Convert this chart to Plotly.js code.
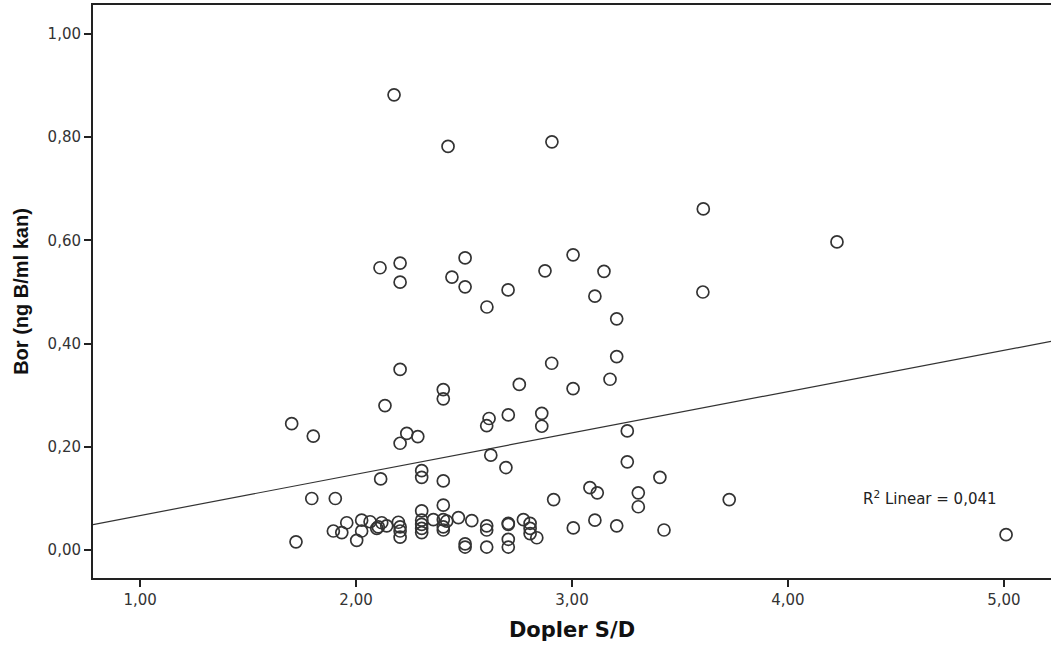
<!DOCTYPE html>
<html>
<head>
<meta charset="utf-8">
<script src="https://cdn.plot.ly/plotly-3.0.1.min.js"></script>
<style>html,body{margin:0;padding:0;background:#fff;}#chart{width:1051px;height:645px;}</style>
</head>
<body>
<div id="chart"></div>
<script>
// Dopler S/D values
const doplerSD = [
  2.176, 2.426, 2.907, 3.608, 4.227, 3.606, 2.111, 2.204, 2.204, 2.505,
  2.444, 2.505, 2.704, 2.606, 2.875, 3.005, 3.148, 3.106, 3.207, 3.207,
  2.906, 2.204, 3.176, 2.756, 3.005, 2.404, 2.404, 2.134, 1.702, 1.802,
  2.235, 2.286, 2.204, 2.616, 2.605, 2.705, 2.860, 2.860, 2.624, 2.694,
  2.304, 2.304, 2.114, 2.404, 1.795, 1.904, 2.915, 2.404, 2.304, 1.957,
  2.026, 2.065, 2.119, 2.196, 2.304, 2.304, 2.358, 2.404, 2.420, 2.474,
  2.536, 2.775, 2.705, 2.705, 2.605, 2.605, 2.806, 2.806, 2.806, 2.837,
  1.895, 1.934, 2.026, 2.003, 2.103, 2.096, 2.142, 2.204, 2.204, 2.204,
  2.304, 2.304, 2.404, 2.404, 2.505, 2.505, 2.605, 2.705, 2.705, 1.722,
  3.006, 3.256, 3.256, 3.407, 3.083, 3.117, 3.307, 3.307, 3.728, 3.106,
  3.207, 3.426, 5.010
];
// Bor (ng B/ml kan) values
const bor = [
  0.882, 0.782, 0.791, 0.661, 0.597, 0.500, 0.547, 0.556, 0.519, 0.566,
  0.529, 0.510, 0.504, 0.471, 0.541, 0.572, 0.540, 0.492, 0.448, 0.375,
  0.362, 0.350, 0.331, 0.321, 0.313, 0.311, 0.293, 0.280, 0.245, 0.221,
  0.226, 0.220, 0.207, 0.255, 0.241, 0.262, 0.265, 0.240, 0.184, 0.160,
  0.154, 0.141, 0.138, 0.134, 0.100, 0.100, 0.098, 0.087, 0.076, 0.053,
  0.058, 0.055, 0.053, 0.054, 0.058, 0.050, 0.059, 0.059, 0.056, 0.063,
  0.057, 0.059, 0.052, 0.050, 0.047, 0.039, 0.052, 0.042, 0.032, 0.024,
  0.037, 0.034, 0.037, 0.019, 0.045, 0.042, 0.047, 0.045, 0.037, 0.025,
  0.042, 0.034, 0.045, 0.039, 0.012, 0.006, 0.006, 0.021, 0.006, 0.016,
  0.043, 0.231, 0.171, 0.141, 0.121, 0.111, 0.111, 0.084, 0.098, 0.058,
  0.047, 0.039, 0.030
];
// Linear fit
const fitIntercept = -0.013;
const fitSlope = 0.080;
const fitR2Label = "R<sup>2</sup> Linear = 0,041";
const xTicks = [1, 2, 3, 4, 5];
const yTicks = [0, 0.2, 0.4, 0.6, 0.8, 1.0];
const xRange = [0.782, 5.218];
const yRange = [-0.054, 1.056];

const fitX = [xRange[0], xRange[1]];
const fitY = fitX.map(v => fitIntercept + fitSlope * v);

const tickFont = {family: 'DejaVu Sans, Arial, sans-serif', size: 15, color: '#333'};

const traces = [
  {
    x: doplerSD, y: bor, type: 'scatter', mode: 'markers',
    marker: {symbol: 'circle-open', size: 12, color: '#333', line: {width: 1.7, color: '#333'}},
    hoverinfo: 'x+y', showlegend: false
  },
  {
    x: fitX, y: fitY, type: 'scatter', mode: 'lines',
    line: {color: '#333', width: 1.2}, showlegend: false, hoverinfo: 'skip'
  }
];

const layout = {
  width: 1051, height: 645,
  margin: {l: 93, r: 0, t: 5, b: 67},
  paper_bgcolor: '#fff', plot_bgcolor: '#fff',
  separators: ',.',
  font: {family: 'DejaVu Sans, Arial, sans-serif', color: '#333', size: 15},
  showlegend: false,
  xaxis: {
    range: xRange, tickvals: xTicks, tickformat: '.2f',
    showgrid: false, zeroline: false,
    showline: true, linecolor: '#222', linewidth: 2, mirror: true,
    ticks: 'outside', ticklen: 7, tickwidth: 2, tickcolor: '#222',
    tickfont: tickFont,
    title: {text: 'Dopler S/D', font: {size: 21, color: '#111', family: 'DejaVu Sans, Arial, sans-serif', weight: 'bold'}, standoff: 14}
  },
  yaxis: {
    range: yRange, tickvals: yTicks, tickformat: '.2f',
    showgrid: false, zeroline: false,
    showline: true, linecolor: '#222', linewidth: 2, mirror: true,
    ticks: 'outside', ticklen: 7, tickwidth: 2, tickcolor: '#222',
    tickfont: tickFont,
    title: {text: 'Bor (ng B/ml kan)', font: {size: 20, color: '#111', family: 'Liberation Sans, Arial, sans-serif', weight: 'bold'}, standoff: 14}
  },
  annotations: [
    {x: 4.657, y: 0.101, xref: 'x', yref: 'y', text: fitR2Label, showarrow: false,
     font: {family: 'DejaVu Sans, Arial, sans-serif', size: 15, color: '#222'}}
  ]
};

Plotly.newPlot('chart', traces, layout, {displayModeBar: false, staticPlot: true});
</script>
</body>
</html>
